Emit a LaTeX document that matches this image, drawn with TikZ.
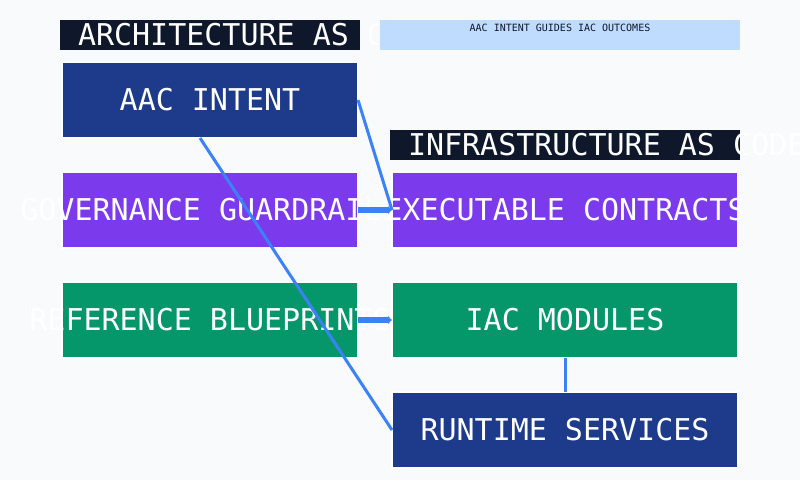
\documentclass[tikz,border=0pt]{standalone}
\usepackage{fontspec}
\setmonofont{DejaVu Sans Mono}
\usepackage{tikz}
\usetikzlibrary{arrows.meta,positioning}
\definecolor{PageMist}{HTML}{F8FAFC}
\definecolor{InkBar}{HTML}{0F172A}
\definecolor{SkyWash}{HTML}{BFDBFE}
\definecolor{IntentBlue}{HTML}{1E3A8A}
\definecolor{GuardViolet}{HTML}{7C3AED}
\definecolor{ModuleGreen}{HTML}{059669}
\definecolor{LinkBlue}{HTML}{3B82F6}

\begin{document}
\begin{tikzpicture}[x=1pt, y=-1pt, node distance=34pt,
  every node/.style={font=\ttfamily\fontsize{30}{30}\selectfont, text=white, inner sep=0pt, outer sep=0pt},
  block/.style={draw=white, line width=2pt, minimum width=296pt, minimum height=76pt},
  wideblock/.style={block, minimum width=346pt},
  titlebar/.style={fill=InkBar, minimum height=30pt, inner xsep=18pt},
  link/.style={draw=LinkBlue, line width=3pt},
  feed/.style={draw=LinkBlue, line width=6pt, -{Latex[length=4pt, width=9pt]}}]
  \fill[PageMist] (0,0) rectangle (800,480);
  \useasboundingbox (0,0) rectangle (800,480);
  % left column
  \node[block, fill=IntentBlue] (aac) at (210,100) {\makebox[0pt]{AAC INTENT}};
  \node[block, fill=GuardViolet, below=of aac] (gov) {\makebox[0pt]{GOVERNANCE GUARDRAILS}};
  \node[block, fill=ModuleGreen, below=of gov] (ref) {\makebox[0pt]{REFERENCE BLUEPRINTS}};
  \node[titlebar, above=12pt of aac] (aactitle) {\makebox[264pt][l]{ARCHITECTURE AS CODE}};
  % header note
  \node[fill=SkyWash, minimum width=360pt, text=InkBar, font=\ttfamily\fontsize{10}{10}\selectfont, text height=11pt, text depth=19pt] (note) at (560,35) {AAC INTENT GUIDES IAC OUTCOMES};
  % right column
  \node[wideblock, fill=GuardViolet, right=of gov] (exec) {\makebox[0pt]{EXECUTABLE CONTRACTS}};
  \node[wideblock, fill=ModuleGreen, right=of ref] (iac) {\makebox[0pt]{IAC MODULES}};
  \node[wideblock, fill=IntentBlue, below=of iac] (run) {\makebox[0pt]{RUNTIME SERVICES}};
  \node[titlebar, above=12pt of exec] (iactitle) {\makebox[314pt][l]{INFRASTRUCTURE AS CODE}};
  % links
  \draw[link] (aac.east) -- (exec.west);
  \draw[link] ([xshift=-10pt]aac.south) -- (run.west);
  \draw[feed] (gov) -- (exec);
  \draw[feed] (ref) -- (iac);
  \draw[link] (iac) -- (run);
\end{tikzpicture}
\end{document}
